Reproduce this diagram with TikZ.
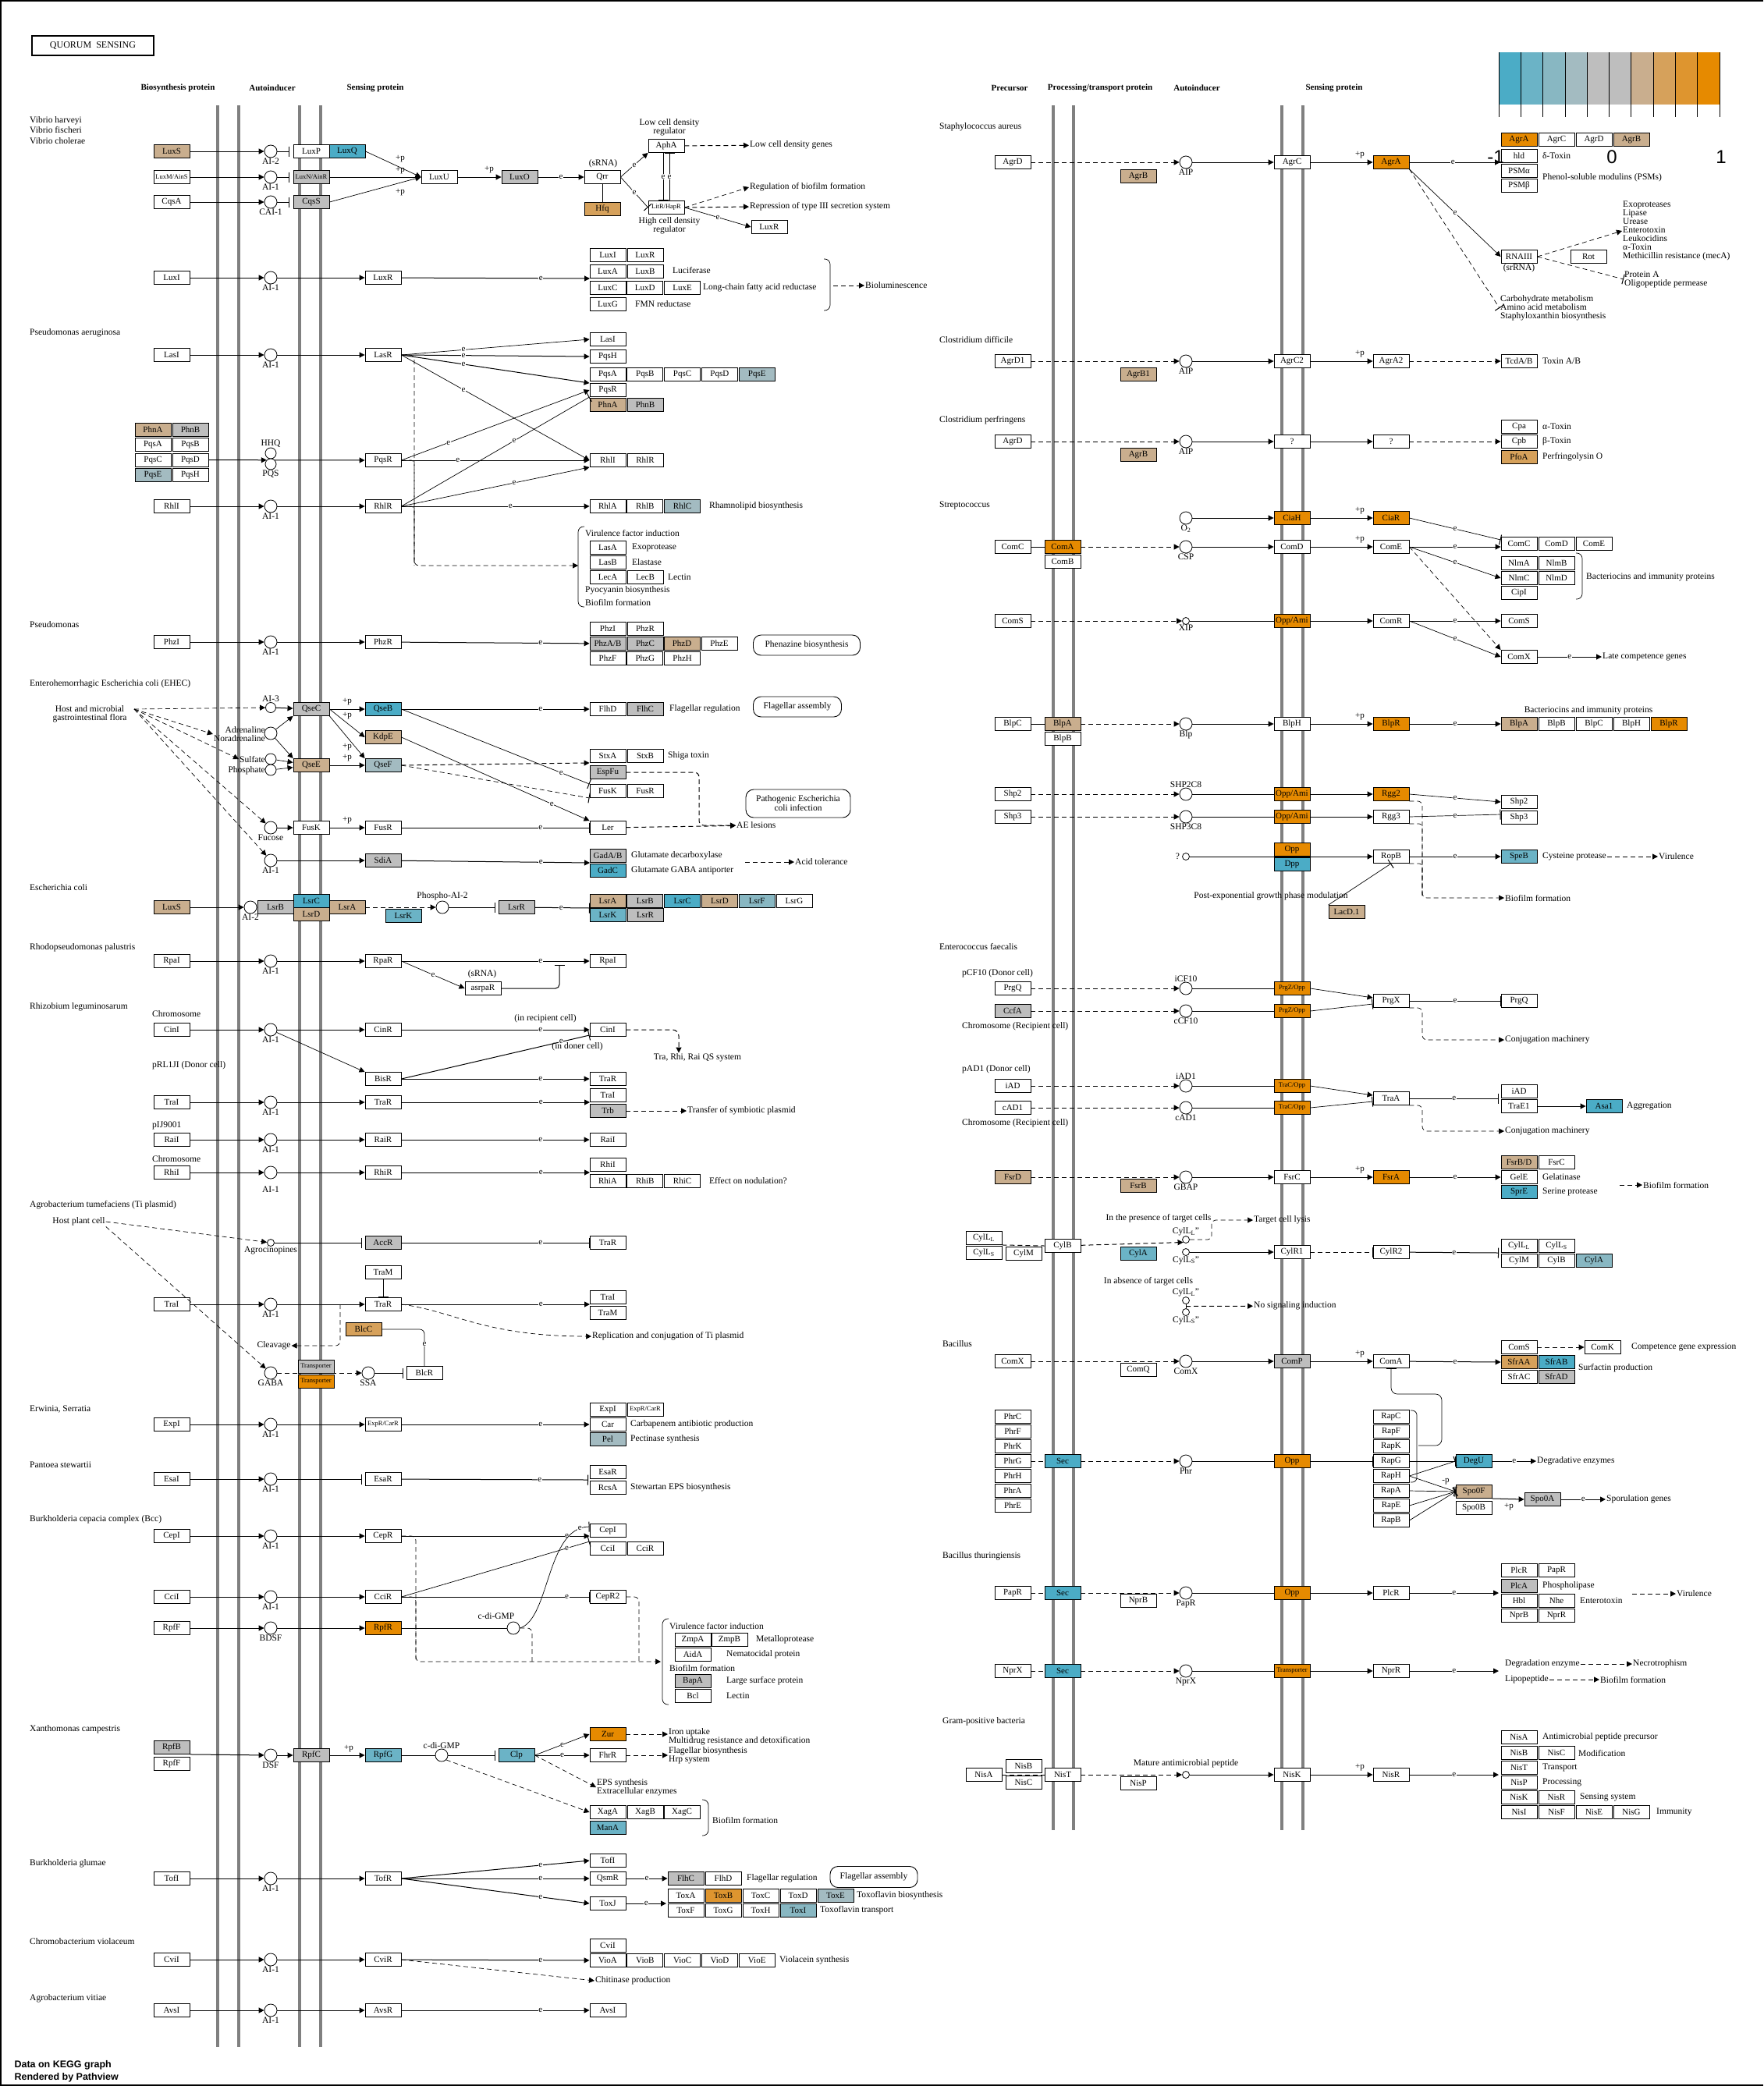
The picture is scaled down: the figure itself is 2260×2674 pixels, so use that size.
\documentclass[tikz,border=0pt]{standalone}
\usepackage{fontspec}
\setmainfont{Liberation Serif}
\newfontfamily\pvfont{Liberation Sans}
\usetikzlibrary{positioning, arrows.meta}
\definecolor{cA}{HTML}{4BACC6}
\definecolor{cB}{HTML}{6BB3C6}
\definecolor{cC}{HTML}{88B7C2}
\definecolor{cD}{HTML}{A3BBC1}
\definecolor{cG}{HTML}{BEBEBE}
\definecolor{cT}{HTML}{C9AE8E}
\definecolor{cU}{HTML}{D6A15B}
\definecolor{cV}{HTML}{DE952F}
\definecolor{cO}{HTML}{E68A00}
\definecolor{memgray}{HTML}{808080}
\newcommand\gfont{\fontsize{11}{12}\selectfont}
\newcommand\lfont{\fontsize{11.5}{13}\selectfont}
\newcommand\sqfont{\fontsize{8.5}{9}\selectfont}
\newcommand\tfont{\fontsize{11.5}{11}\selectfont}

\begin{document}
\begin{tikzpicture}[x=1pt, y=-1pt,
  gene/.style={draw, line width=0.9pt, fill=white, minimum width=46pt, minimum height=17pt, inner sep=0pt, font=\gfont},
  sq/.style={font=\sqfont},
  sig/.style={circle, draw, fill=white, minimum size=16pt, inner sep=0pt, line width=0.8pt},
  dotc/.style={circle, draw, fill=white, minimum size=9pt, inner sep=0pt, line width=0.8pt},
  txt/.style={font=\lfont, inner sep=1pt},
  lt/.style={txt, anchor=west},
  hd/.style={font=\bfseries\gfont},
  ev/.style={font=\gfont, fill=white, inner sep=0.5pt},
  pl/.style={font=\gfont, inner sep=0pt},
  arr/.style={-{Triangle[length=7pt, width=7pt]}, line width=1pt},
  inh/.style={-{Bar[width=13pt, line width=1pt]}, line width=1pt},
  dsh/.style={arr, dash pattern=on 6pt off 4pt},
  dl/.style={line width=1pt, dash pattern=on 6pt off 4pt},
  lw/.style={line width=0.7pt},
  mem/.style={line width=4pt, draw=memgray},
  oval/.style={draw, rounded corners=10pt, line width=0.9pt, font=\lfont, align=center, inner sep=3pt}]
\useasboundingbox (0,0) rectangle (2260,2674);
\draw[line width=2pt] (2260,1) -- (1,1) -- (1,2673) -- (2260,2673);
\foreach \x in {279,306,384,411} \draw[mem] (\x,135) -- (\x,2624);
\foreach \x in {1350,1376,1643,1670} \draw[mem] (\x,135) -- (\x,2346);

\node[draw, line width=2pt, minimum width=156pt, minimum height=25pt, font=\fontsize{12}{14}\selectfont] (title) at (119,58) {QUORUM\ \ SENSING};
\node[hd] (hBio) at (228,113) {Biosynthesis protein};
\node[hd] (hAut) at (349,113) {Autoinducer};
\node[hd] (hSen) at (481,113) {Sensing protein};
\node[hd] (hPre) at (1294,113) {Precursor};
\node[hd] (hPro) at (1410,113) {Processing/transport protein};
\node[hd] (hAut2) at (1534,113) {Autoinducer};
\node[hd] (hSen2) at (1710,113) {Sensing protein};

\foreach \c [count=\i from 0] in {cA,cB,cC,cD,cG,cG,cT,cU,cV,cO}
  \fill[\c] ({1921+28.3*\i},67) rectangle ({1949.3+28.3*\i},134);
\foreach \i in {0,...,10} \draw[lw] ({1921+28.3*\i},67) -- ({1921+28.3*\i},150);

\node[lt, align=left, font=\fontsize{11.5}{13.5}\selectfont] (spVib) at (37,167) {Vibrio harveyi\\Vibrio fischeri\\Vibrio cholerae};
\node[gene, fill=cT] (luxS) at (220,194) {LuxS};
\node[gene, sq] (luxM) at (220,227) {LuxM/AinS};
\node[gene] (cqsA) at (220,259) {CqsA};
\node[sig] (ai2a) at (347,194) {};
\node[txt, below=-1pt of ai2a] (ai2aL) {AI-2};
\node[sig] (ai1a) at (347,227) {};
\node[txt, below=-1pt of ai1a] (ai1aL) {AI-1};
\node[sig] (cai1) at (347,259) {};
\node[txt, below=-1pt of cai1] (cai1L) {CAI-1};
\node[gene] (luxP) at (399,194) {LuxP};
\node[gene, fill=cA] (luxQ) at (445,194) {LuxQ};
\node[gene, fill=cG, sq] (luxN) at (399,227) {LuxN/AinR};
\node[gene, fill=cG] (cqsS) at (399,259) {CqsS};
\node[gene] (luxU) at (563,227) {LuxU};
\node[gene, fill=cG] (luxO) at (666,227) {LuxO};
\node[gene] (qrr) at (772,227) {Qrr};
\node[txt] (srnaA) at (773,210) {(sRNA)};
\node[gene, fill=cU] (hfq) at (772,268) {Hfq};
\node[gene] (aphA) at (854,187) {AphA};
\node[txt, align=center, font=\tfont] (aphAL) at (858,163) {Low cell density\\regulator};
\node[gene, sq] (litR) at (854,266) {LitR/HapR};
\node[txt, align=center, font=\tfont] (litRL) at (858,289) {High cell density\\regulator};
\node[lt] (lcdg) at (960,186) {Low cell density genes};
\node[lt] (rbf) at (960,240) {Regulation of biofilm formation};
\node[lt] (rt3) at (960,265) {Repression of type III secretion system};
\node[gene] (luxRt) at (986,291) {LuxR};
\node[pl] (pp1) at (513,204) {+p};
\node[pl] (pp2) at (513,219) {+p};
\node[pl] (pp3) at (513,247) {+p};
\node[pl] (pp4) at (627,218) {+p};
\draw[arr] (luxS) -- (ai2a);
\draw[arr] (luxM) -- (ai1a);
\draw[arr] (cqsA) -- (cai1);
\draw[inh, shorten >=5pt] (ai2a) -- (luxP);
\draw[inh, shorten >=5pt] (ai1a) -- (luxN);
\draw[inh, shorten >=5pt] (cai1) -- (cqsS);
\draw[arr, lw] (luxQ.east) -- (luxU.west);
\draw[arr] (luxN) -- (luxU);
\draw[arr, lw] (cqsS.east) -- (luxU.west);
\draw[arr] (luxU) -- (luxO);
\draw[arr] (luxO) -- node[ev]{e} (qrr);
\draw[lw] (qrr) -- (hfq);
\draw[arr, lw] (qrr.east) -- node[ev]{e} (aphA.south west);
\draw[inh, lw] (qrr.east) -- node[ev]{e} (litR.west);
\draw[inh, lw] ([xshift=-4pt]aphA.south) -- node[ev]{e} ([xshift=-4pt]litR.north);
\draw[inh, lw] ([xshift=4pt]litR.north) -- node[ev]{e} ([xshift=4pt]aphA.south);
\draw[dsh] (aphA) -- (lcdg);
\draw[dsh, lw] (litR.east) -- (rbf.west);
\draw[dsh] (litR.east) -- (rt3.west);
\draw[arr, lw] (litR.east) -- node[ev]{e} (luxRt.west);

\node[gene] (luxI) at (220,356) {LuxI};
\node[sig] (ai1b) at (347,356) {};
\node[txt, below=-1pt of ai1b] (ai1bL) {AI-1};
\node[gene] (luxR) at (491,356) {LuxR};
\node[gene] (tLuxI) at (779,327) {LuxI};
\node[gene] (tLuxR) at (827,327) {LuxR};
\node[gene] (tLuxA) at (779,348) {LuxA};
\node[gene] (tLuxB) at (827,348) {LuxB};
\node[lt] (lucif) at (861,347) {Luciferase};
\foreach \g [count=\i from 0] in {LuxC,LuxD,LuxE} \node[gene] (t\g) at ({779+47.8*\i},369) {\g};
\node[lt] (lcfa) at (900,369) {Long-chain fatty acid reductase};
\node[gene] (tLuxG) at (779,390) {LuxG};
\node[lt] (fmn) at (813,390) {FMN reductase};
\coordinate (luxT) at (756,357);
\coordinate (bioB) at (1068,366);
\node[lt] (biolum) at (1108,366) {Bioluminescence};
\draw[arr] (luxI) -- (ai1b);
\draw[arr] (ai1b) -- (luxR);
\draw[arr] (luxR) -- node[ev, pos=.74]{e} (luxT);
\draw[lw, rounded corners=7pt] (1056,332) -| (1064,366) |- (1056,398);
\draw[dsh] (bioB) -- (biolum);

\node[lt] (spPa) at (37,427) {Pseudomonas aeruginosa};
\node[gene] (lasI) at (220,455) {LasI};
\node[sig] (ai1c) at (347,455) {};
\node[txt, below=-1pt of ai1c] (ai1cL) {AI-1};
\node[gene] (lasR) at (491,455) {LasR};
\node[gene] (tLasI) at (779,435) {LasI};
\node[gene] (tPqsH) at (779,457) {PqsH};
\foreach \g/\c [count=\i from 0] in {PqsA/white,PqsB/white,PqsC/white,PqsD/white,PqsE/cD} \node[gene, fill=\c] (t\g) at ({779+47.8*\i},480) {\g};
\node[gene] (tPqsR) at (779,500) {PqsR};
\node[gene, fill=cT] (tPhnA) at (779,519) {PhnA};
\node[gene, fill=cG] (tPhnB) at (827,519) {PhnB};
\foreach \a/\b/\ca/\cb [count=\i from 0] in {PhnA/PhnB/cT/cG,PqsA/PqsB/white/white,PqsC/PqsD/white/white,PqsE/PqsH/cD/white} {
  \node[gene, fill=\ca] (b\a) at (196,{551+19.3*\i}) {\a};
  \node[gene, fill=\cb] (b\b) at (244,{551+19.3*\i}) {\b};
}
\node[sig, minimum size=14pt] (hhq) at (347,581) {};
\node[sig, minimum size=14pt] (pqs) at (347,595) {};
\node[txt, above=-1pt of hhq] (hhqL) {HHQ};
\node[txt, below=-1pt of pqs] (pqsL) {PQS};
\node[gene] (pqsR) at (491,590) {PqsR};
\node[gene] (rhlI) at (220,649) {RhlI};
\node[sig] (ai1d) at (347,649) {};
\node[txt, below=-1pt of ai1d] (ai1dL) {AI-1};
\node[gene] (rhlR) at (491,649) {RhlR};
\node[gene] (tRhlI) at (779,590) {RhlI};
\node[gene] (tRhlR) at (827,590) {RhlR};
\foreach \g/\c [count=\i from 0] in {RhlA/white,RhlB/white,RhlC/cD} \node[gene, fill=\c] (t\g) at ({779+47.8*\i},649) {\g};
\node[lt] (rhamno) at (908,649) {Rhamnolipid biosynthesis};
\draw[arr] (lasI) -- (ai1c);
\draw[arr] (ai1c) -- (lasR);
\draw[arr, lw] (lasR.east) -- node[ev, pos=.33]{e} (tLasI.west);
\draw[arr] (lasR.east) -- node[ev, pos=.33]{e} (tPqsH.west);
\draw[arr] (lasR.east) -- node[ev, pos=.33]{e} (tPqsR.north west);
\draw[arr, lw] (lasR.east) -- node[ev, pos=.33]{e} (tRhlI.west);
\draw[arr] (bPqsD.east) -- (pqs.north west);
\draw[arr] (pqs.north east) -- (pqsR.west);
\draw[arr, lw] (pqsR.east) -- node[ev, pos=.25]{e} (tPqsR.west);
\draw[arr] (pqsR) -- node[ev, pos=.3]{e} (tRhlI);
\draw[arr] (rhlI) -- (ai1d);
\draw[arr] (ai1d) -- (rhlR);
\draw[inh, lw] (rhlR.east) -- node[ev, pos=.6]{e} (tPqsR.south west);
\draw[arr, lw] (rhlR.east) -- node[ev, pos=.6]{e} (tRhlI.south west);
\draw[arr] (rhlR) -- node[ev, pos=.58]{e} (tRhlA);
\coordinate (vfk) at (531,725);
\coordinate (vfB) at (741,725);
\draw[dsh, lw, rounded corners=6pt] (lasR.east) -| (vfk) -- (vfB);
\draw[dl, lw, rounded corners=4pt] (pqsR.east) -| (vfk);
\draw[dl, lw, rounded corners=4pt] (rhlR.east) -| (vfk);
\draw[lw, rounded corners=7pt] (749,675) -| (741,725) |- (749,778);
\node[lt] (vfi) at (749,684) {Virulence factor induction};
\node[gene] (tLasA) at (779,702) {LasA};
\node[lt] (exo) at (809,702) {Exoprotease};
\node[gene] (tLasB) at (779,721) {LasB};
\node[lt] (elas) at (809,721) {Elastase};
\node[gene] (tLecA) at (779,740) {LecA};
\node[gene] (tLecB) at (827,740) {LecB};
\node[lt] (lect) at (855,740) {Lectin};
\node[lt] (pyo) at (749,757) {Pyocyanin biosynthesis};
\node[lt] (bff1) at (749,772) {Biofilm formation};

\node[lt] (spPs) at (37,801) {Pseudomonas};
\node[gene] (phzI) at (220,823) {PhzI};
\node[sig] (ai1e) at (347,823) {};
\node[txt, below=-1pt of ai1e] (ai1eL) {AI-1};
\node[gene] (phzR) at (491,823) {PhzR};
\node[gene] (tPhzI) at (779,806) {PhzI};
\node[gene] (tPhzR) at (827,806) {PhzR};
\node[gene, fill=cG] (tPhzAB) at (779,825) {PhzA/B};
\node[gene, fill=cG] (tPhzC) at (827,825) {PhzC};
\node[gene, fill=cT] (tPhzD) at (874,825) {PhzD};
\node[gene] (tPhzE) at (922,825) {PhzE};
\foreach \g [count=\i from 0] in {PhzF,PhzG,PhzH} \node[gene] (t\g) at ({779+47.8*\i},844) {\g};
\node[oval, minimum width=137pt, minimum height=26pt] (phzBio) at (1034,827) {Phenazine biosynthesis};
\draw[arr] (phzI) -- (ai1e);
\draw[arr] (ai1e) -- (phzR);
\draw[arr] (phzR) -- node[ev, pos=.74]{e} (tPhzAB);

\node[lt] (spEh) at (37,877) {Enterohemorrhagic Escherichia coli (EHEC)};
\node[txt, align=center, font=\tfont] (host) at (115,915) {Host and microbial\\gastrointestinal flora};
\coordinate (hostE) at (172,909);
\node[dotc, minimum size=13pt] (ai3) at (347,907) {};
\node[txt, above=-1pt of ai3] (ai3L) {AI-3};
\node[gene, fill=cG] (qseC) at (399,909) {QseC};
\node[gene, fill=cA] (qseB) at (491,909) {QseB};
\node[gene, fill=cT] (kdpE) at (491,945) {KdpE};
\node[gene, fill=cT] (qseE) at (399,981) {QseE};
\node[gene, fill=cD] (qseF) at (491,981) {QseF};
\node[sig] (adr) at (347,940) {};
\node[txt, anchor=east, align=right, font=\tfont] (adrL) at (341,941) {Adrenaline\\Noradrenaline};
\node[sig, minimum size=14pt] (sulf) at (347,973) {};
\node[sig, minimum size=14pt] (phos) at (347,987) {};
\node[txt, anchor=east] (sulfL) at (341,973) {Sulfate};
\node[txt, anchor=east] (phosL) at (341,988) {Phosphate};
\node[gene] (fusK) at (399,1061) {FusK};
\node[gene] (fusR) at (491,1061) {FusR};
\node[sig] (fuc) at (347,1061) {};
\node[txt, below=-1pt of fuc] (fucL) {Fucose};
\node[sig] (ai1f) at (347,1103) {};
\node[txt, below=-1pt of ai1f] (ai1fL) {AI-1};
\node[gene, fill=cG] (sdiA) at (491,1103) {SdiA};
\node[pl] (pp6) at (445,900) {+p};
\node[pl] (pp7) at (445,918) {+p};
\node[pl] (pp8) at (445,958) {+p};
\node[pl] (pp9) at (445,972) {+p};
\node[pl] (pp19) at (445,1052) {+p};
\node[gene] (tFlhD) at (779,909) {FlhD};
\node[gene, fill=cG] (tFlhC) at (827,909) {FlhC};
\node[lt] (flreg) at (857,909) {Flagellar regulation};
\node[oval, minimum width=113pt, minimum height=26pt] (flasm) at (1022,906) {Flagellar assembly};
\node[gene] (tStxA) at (779,969) {StxA};
\node[gene] (tStxB) at (827,969) {StxB};
\node[lt] (shiga) at (855,969) {Shiga toxin};
\node[gene, fill=cG] (tEspFu) at (779,990) {EspFu};
\node[gene] (tFusK) at (779,1014) {FusK};
\node[gene] (tFusR) at (827,1014) {FusR};
\node[oval, minimum width=134pt, minimum height=36pt, font=\fontsize{11.5}{12}\selectfont] (pec) at (1023,1030) {Pathogenic Escherichia\\coli infection};
\node[gene] (tLer) at (779,1061) {Ler};
\node[lt] (aeles) at (943,1058) {AE lesions};
\node[gene, fill=cG] (tGadAB) at (779,1097) {GadA/B};
\node[lt] (gdc) at (808,1097) {Glutamate decarboxylase};
\node[gene, fill=cA] (tGadC) at (779,1116) {GadC};
\node[lt] (gga) at (808,1116) {Glutamate GABA antiporter};
\node[lt] (acid) at (1018,1105) {Acid tolerance};
\coordinate (aeBend) at (896,1040);
\coordinate (gadT) at (756,1106);
\coordinate (gadE) at (955,1105);
\draw[dsh, lw] (hostE) -- (ai3);
\draw[dsh, lw] (hostE) -- (adrL.west);
\draw[dsh, lw] (hostE) -- (sulfL.west);
\draw[dsh, lw] (hostE) -- (fuc);
\draw[dsh, lw] (hostE) -- (ai1f);
\draw[arr] (ai3) -- (qseC);
\draw[arr, lw] (adr) -- (qseC.south west);
\draw[arr, lw] (adr) -- (qseE.north west);
\draw[arr, lw] (sulf) -- (qseE);
\draw[arr, lw] (phos) -- (qseE);
\draw[arr] (qseC) -- (qseB);
\draw[arr, lw] (qseC.east) -- (kdpE.west);
\draw[arr, lw] (qseC.south east) -- (qseF.north west);
\draw[arr] (qseE) -- (qseF);
\draw[arr] (qseB) -- node[ev, pos=.74]{e} (tFlhD);
\draw[inh, lw] (qseB.east) -- node[ev, pos=.85]{e} (tFusK.north west);
\draw[arr, lw] (kdpE.east) -- node[ev, pos=.8]{e} (tLer.north west);
\draw[dsh] (qseF.east) -- (tStxA.south west);
\draw[inh, dl, lw] (qseF.east) -- (tFusK.south west);
\draw[dsh, rounded corners=6pt] (tEspFu.east) -| (aeBend) |- (aeles.west);
\draw[inh] (fusR) -- node[ev, pos=.74]{e} (tLer);
\draw[dsh] (tLer) -- (aeles);
\draw[arr] (fuc) -- (fusK);
\draw[arr] (fusK) -- (fusR);
\draw[arr] (ai1f) -- (sdiA);
\draw[arr] (sdiA) -- node[ev, pos=.74]{e} (gadT);
\draw[dsh] (gadE) -- (acid);

\node[lt] (spEc) at (37,1138) {Escherichia coli};
\node[gene, fill=cT] (luxS2) at (220,1163) {LuxS};
\node[sig] (ai2b) at (321,1163) {};
\node[txt, below=-1pt of ai2b] (ai2bL) {AI-2};
\node[gene, fill=cG] (lsrB) at (353,1163) {LsrB};
\node[gene, fill=cA] (lsrC) at (399,1154.5) {LsrC};
\node[gene, fill=cT] (lsrD) at (399,1171.5) {LsrD};
\node[gene, fill=cT] (lsrA) at (445,1163) {LsrA};
\node[gene, fill=cB] (lsrK) at (517,1174) {LsrK};
\node[sig] (pai2) at (567,1163) {};
\node[txt, above=-1pt of pai2] (pai2L) {Phospho-AI-2};
\node[gene, fill=cG] (lsrR) at (662,1163) {LsrR};
\foreach \g/\c [count=\i from 0] in {LsrA/cT,LsrB/cG,LsrC/cA,LsrD/cT,LsrF/cC,LsrG/white} \node[gene, fill=\c] (t\g) at ({779+47.8*\i},1155) {\g};
\node[gene, fill=cB] (tLsrK) at (779,1173) {LsrK};
\node[gene, fill=cG] (tLsrR) at (827,1173) {LsrR};
\coordinate (lsrT) at (756,1164);
\draw[arr] (luxS2) -- (ai2b);
\draw[dsh] (lsrA) -- (pai2);
\draw[inh, shorten >=4pt] (pai2) -- (lsrR);
\draw[inh] (lsrR) -- node[ev, pos=.48]{e} (lsrT);

\node[lt] (spRp) at (37,1215) {Rhodopseudomonas palustris};
\node[gene] (rpaI) at (220,1232) {RpaI};
\node[sig] (ai1g) at (347,1232) {};
\node[txt, below=-1pt of ai1g] (ai1gL) {AI-1};
\node[gene] (rpaR) at (491,1232) {RpaR};
\node[gene] (tRpaI) at (779,1232) {RpaI};
\node[gene] (asrpaR) at (619,1267) {asrpaR};
\node[txt] (srnaB) at (618,1249) {(sRNA)};
\coordinate (rpaBar) at (717,1237);
\draw[arr] (rpaI) -- (ai1g);
\draw[arr] (ai1g) -- (rpaR);
\draw[arr] (rpaR) -- node[ev, pos=.74]{e} (tRpaI);
\draw[arr, lw] (rpaR.east) -- node[ev]{e} (asrpaR.west);
\draw[inh, rounded corners=5pt] (asrpaR.east) -| (rpaBar);

\node[lt] (spRl) at (37,1291) {Rhizobium leguminosarum};
\node[lt] (chr1) at (194,1300) {Chromosome};
\node[gene] (cinI) at (220,1320) {CinI};
\node[sig] (ai1h) at (347,1320) {};
\node[txt, below=-1pt of ai1h] (ai1hL) {AI-1};
\node[gene] (cinR) at (491,1320) {CinR};
\node[gene] (tCinI) at (779,1320) {CinI};
\node[txt] (inrec) at (699,1306) {(in recipient cell)};
\node[txt] (indon) at (740,1342) {(in doner cell)};
\node[txt] (trarhi) at (894,1356) {Tra, Rhi, Rai QS system};
\node[lt] (prl) at (194,1366) {pRL1JI (Donor cell)};
\node[gene] (bisR) at (491,1383) {BisR};
\node[gene] (tTraR1) at (779,1383) {TraR};
\draw[arr] (cinI) -- (ai1h);
\draw[arr] (ai1h) -- (cinR);
\draw[arr] (cinR) -- node[ev, pos=.74]{e} (tCinI);
\draw[dsh, rounded corners=8pt] (tCinI.east) -| ([xshift=-24pt]trarhi.north);
\draw[arr, lw] (ai1h) -- (bisR.north west);
\draw[inh] (bisR.east) -- node[ev, pos=.85]{e} ([yshift=-7pt]tCinI.west);
\draw[arr] (bisR) -- node[ev, pos=.74]{e} (tTraR1);

\node[gene] (traI) at (220,1413) {TraI};
\node[sig] (ai1i) at (347,1413) {};
\node[txt, below=-1pt of ai1i] (ai1iL) {AI-1};
\node[gene] (traR) at (491,1413) {TraR};
\node[gene] (tTraI1) at (779,1404) {TraI};
\node[gene, fill=cG] (tTrb) at (779,1424) {Trb};
\node[lt] (tsp) at (880,1424) {Transfer of symbiotic plasmid};
\coordinate (traT) at (756,1413);
\draw[arr] (traI) -- (ai1i);
\draw[arr] (ai1i) -- (traR);
\draw[arr] (traR) -- node[ev, pos=.74]{e} (traT);
\draw[dsh] (tTrb) -- (tsp);

\node[lt] (pij) at (194,1443) {pIJ9001};
\node[gene] (raiI) at (220,1461) {RaiI};
\node[sig] (ai1j) at (347,1461) {};
\node[txt, below=-1pt of ai1j] (ai1jL) {AI-1};
\node[gene] (raiR) at (491,1461) {RaiR};
\node[gene] (tRaiI) at (779,1461) {RaiI};
\draw[arr] (raiI) -- (ai1j);
\draw[arr] (ai1j) -- (raiR);
\draw[arr] (raiR) -- node[ev, pos=.74]{e} (tRaiI);

\node[lt] (chr2) at (194,1486) {Chromosome};
\node[gene] (rhiI) at (220,1503) {RhiI};
\node[sig] (ai1k) at (347,1503) {};
\node[txt] (ai1kL) at (347,1525) {AI-1};
\node[gene] (rhiR) at (491,1503) {RhiR};
\node[gene] (tRhiI) at (779,1493) {RhiI};
\foreach \g [count=\i from 0] in {RhiA,RhiB,RhiC} \node[gene] (t\g) at ({779+47.8*\i},1514) {\g};
\node[lt] (nod) at (908,1514) {Effect on nodulation?};
\coordinate (rhiT) at (756,1503);
\draw[arr] (rhiI) -- (ai1k);
\draw[arr] (ai1k) -- (rhiR);
\draw[arr] (rhiR) -- node[ev, pos=.74]{e} (rhiT);

\node[lt] (spAt) at (37,1545) {Agrobacterium tumefaciens (Ti plasmid)};
\node[txt] (hpc) at (101,1566) {Host plant cell};
\node[dotc] (agro) at (347,1593) {};
\node[txt, below=-1pt of agro] (agroL) {Agrocinopines};
\node[gene, fill=cG] (accR) at (491,1593) {AccR};
\node[gene] (tTraR2) at (779,1593) {TraR};
\draw[dsh, lw] (hpc.east) -- (agro);
\draw[inh, shorten >=4pt] (agro) -- (accR);
\draw[inh] (accR) -- node[ev, pos=.74]{e} (tTraR2);
\node[gene] (traM) at (491,1631) {TraM};
\node[gene] (traI2) at (220,1672) {TraI};
\node[sig] (ai1l) at (347,1672) {};
\node[txt, below=-1pt of ai1l] (ai1lL) {AI-1};
\node[gene] (traR2) at (491,1672) {TraR};
\node[gene] (tTraI2) at (779,1663) {TraI};
\node[gene] (tTraM) at (779,1683) {TraM};
\coordinate (traT2) at (756,1672);
\node[lt] (repl) at (758,1713) {Replication and conjugation of Ti plasmid};
\node[gene, fill=cU] (blcC) at (466,1704) {BlcC};
\node[txt] (clv) at (351,1725) {Cleavage};
\node[sig] (gaba) at (347,1760) {};
\node[txt, below=-1pt of gaba] (gabaL) {GABA};
\node[gene, fill=cG, sq] (trpG) at (405,1752) {Transporter};
\node[gene, fill=cO, sq] (trpO) at (405,1771) {Transporter};
\node[sig] (ssa) at (472,1760) {};
\node[txt, below=-1pt of ssa] (ssaL) {SSA};
\node[gene] (blcR) at (544,1760) {BlcR};
\coordinate (clvT) at (436,1672);
\draw[arr] (traI2) -- (ai1l);
\draw[arr] (ai1l) -- (traR2);
\draw[inh] (traM) -- (traR2);
\draw[arr] (traR2) -- node[ev, pos=.74]{e} (traT2);
\draw[dsh, lw] (traR2.east) .. controls (580,1680) and (620,1713) .. (repl.west);
\draw[dsh, lw, rounded corners=6pt] (clvT) |- (clv.east);
\draw[inh, lw, rounded corners=6pt] (blcR.north) |- node[ev, pos=.3]{e} (blcC.east);
\draw[dsh, lw] (hpc.south east) -- (gaba);
\draw[dsh] (gaba) -- (ssa);
\draw[inh, shorten >=4pt] (ssa) -- (blcR);

\node[lt] (spEs) at (37,1807) {Erwinia, Serratia};
\node[gene] (expI) at (220,1826) {ExpI};
\node[sig] (ai1m) at (347,1826) {};
\node[txt, below=-1pt of ai1m] (ai1mL) {AI-1};
\node[gene, sq] (expR) at (491,1826) {ExpR/CarR};
\node[gene] (tExpI) at (779,1807) {ExpI};
\node[gene, sq] (tExpR) at (827,1807) {ExpR/CarR};
\node[gene] (tCar) at (779,1826) {Car};
\node[lt] (carb) at (807,1826) {Carbapenem antibiotic production};
\node[gene, fill=cD] (tPel) at (779,1845) {Pel};
\node[lt] (pect) at (807,1845) {Pectinase synthesis};
\draw[arr] (expI) -- (ai1m);
\draw[arr] (ai1m) -- (expR);
\draw[arr] (expR) -- node[ev, pos=.74]{e} (tCar);

\node[lt] (spPst) at (37,1878) {Pantoea stewartii};
\node[gene] (esaI) at (220,1896) {EsaI};
\node[sig] (ai1n) at (347,1896) {};
\node[txt, below=-1pt of ai1n] (ai1nL) {AI-1};
\node[gene] (esaR) at (491,1896) {EsaR};
\node[gene] (tEsaR) at (779,1887) {EsaR};
\node[gene] (tRcsA) at (779,1907) {RcsA};
\node[lt] (stew) at (807,1907) {Stewartan EPS biosynthesis};
\coordinate (esaT) at (754,1897);
\draw[arr] (esaI) -- (ai1n);
\draw[inh, shorten >=4pt] (ai1n) -- (esaR);
\draw[inh] (esaR) -- node[ev, pos=.74]{e} (esaT);

\node[lt] (spBc) at (37,1948) {Burkholderia cepacia complex (Bcc)};
\node[gene] (cepI) at (220,1969) {CepI};
\node[sig] (ai1o) at (347,1969) {};
\node[txt, below=-1pt of ai1o] (ai1oL) {AI-1};
\node[gene] (cepR) at (491,1969) {CepR};
\node[gene] (tCepI) at (779,1962) {CepI};
\node[gene] (tCciI) at (779,1985) {CciI};
\node[gene] (tCciR) at (827,1985) {CciR};
\node[gene] (cciI) at (220,2047) {CciI};
\node[sig] (ai1p) at (347,2047) {};
\node[txt, below=-1pt of ai1p] (ai1pL) {AI-1};
\node[gene] (cciR) at (491,2047) {CciR};
\node[gene] (tCepR2) at (779,2047) {CepR2};
\node[gene] (rpfF) at (220,2087) {RpfF};
\node[sig] (bdsf) at (347,2087) {};
\node[txt, below=-1pt of bdsf] (bdsfL) {BDSF};
\node[gene, fill=cO] (rpfR) at (491,2087) {RpfR};
\node[sig] (cdg1) at (658,2087) {};
\node[txt] (cdg1L) at (636,2072) {c-di-GMP};
\draw[arr] (cepI) -- (ai1o);
\draw[arr] (ai1o) -- (cepR);
\draw[arr] (cepR) -- node[ev, pos=.88]{e} (tCepI.west |- cepR);
\draw[inh, lw] (cdg1.east) .. controls (705,2075) and (700,1958) .. node[ev, pos=.92]{e} ([yshift=5pt]tCepI.west);
\draw[arr] (cciI) -- (ai1p);
\draw[arr] (ai1p) -- (cciR);
\draw[inh, lw] (cciR.east) -- node[ev, pos=.88]{e} (tCciI.north west);
\draw[inh] (cciR) -- node[ev, pos=.88]{e} (tCepR2);
\draw[arr] (rpfF) -- (bdsf);
\draw[arr] (bdsf) -- (rpfR);
\draw[lw] (rpfR) -- (cdg1);
\coordinate (bccH) at (533,2130);
\coordinate (bccB) at (847,2130);
\coordinate (cdgH) at (682,2130);
\coordinate (r2H) at (819,2130);
\draw[dsh, lw, rounded corners=6pt] (cepR.east) -| (bccH) -- (bccB);
\draw[dl, lw, rounded corners=6pt] (cciR.east) -| (bccH);
\draw[dl, lw, rounded corners=6pt] (cdg1.east) -| (cdgH);
\draw[dl, lw, rounded corners=6pt] (tCepR2.east) -| (r2H);
\draw[lw, rounded corners=7pt] (857,2075) -| (849,2130) |- (857,2185);
\node[lt] (vfi2) at (857,2085) {Virulence factor induction};
\node[gene] (tZmpA) at (888,2102) {ZmpA};
\node[gene] (tZmpB) at (935,2102) {ZmpB};
\node[lt] (metp) at (968,2102) {Metalloprotease};
\node[gene] (tAidA) at (888,2121) {AidA};
\node[lt] (nema) at (930,2121) {Nematocidal protein};
\node[lt] (bff2) at (857,2138) {Biofilm formation};
\node[gene, fill=cG] (tBapA) at (888,2155) {BapA};
\node[lt] (lsp) at (930,2155) {Large surface protein};
\node[gene] (tBcl) at (888,2174) {Bcl};
\node[lt] (lec2) at (930,2174) {Lectin};

\node[lt] (spXc) at (37,2217) {Xanthomonas campestris};
\node[gene, fill=cG] (rpfB) at (220,2240) {RpfB};
\node[gene] (rpfF2) at (220,2261) {RpfF};
\node[sig] (dsf) at (347,2250) {};
\node[txt, below=-1pt of dsf] (dsfL) {DSF};
\node[gene, fill=cG] (rpfC) at (399,2250) {RpfC};
\node[gene, fill=cB] (rpfG) at (491,2250) {RpfG};
\node[pl] (pp5) at (447,2242) {+p};
\node[sig] (cdg2) at (566,2250) {};
\node[txt, above=-1pt of cdg2] (cdg2L) {c-di-GMP};
\node[gene, fill=cB] (clp) at (662,2250) {Clp};
\node[gene, fill=cO] (tZur) at (779,2223) {Zur};
\node[gene] (tFhrR) at (779,2250) {FhrR};
\node[lt, align=left, font=\tfont] (iron) at (856,2226) {Iron uptake\\Multidrug resistance and detoxification};
\node[lt, align=left, font=\tfont] (flb) at (856,2250) {Flagellar biosynthesis\\Hrp system};
\node[lt, align=left, font=\tfont] (eps) at (764,2291) {EPS synthesis\\Extracellular enzymes};
\node[gene] (tXagA) at (779,2323) {XagA};
\node[gene] (tXagB) at (827,2323) {XagB};
\node[gene] (tXagC) at (874,2323) {XagC};
\node[gene, fill=cB] (tManA) at (779,2343) {ManA};
\draw[lw, rounded corners=7pt] (900,2307) -| (908,2330) |- (900,2353);
\node[lt] (bff3) at (912,2333) {Biofilm formation};
\draw[arr] (rpfB.south east) -- (dsf);
\draw[arr] (dsf) -- (rpfC);
\draw[arr] (rpfC) -- (rpfG);
\draw[lw] (rpfG) -- (cdg2);
\draw[inh, shorten >=4pt] (cdg2) -- (clp);
\draw[arr, lw] (clp.east) -- node[ev]{e} (tZur.west);
\draw[arr] (clp) -- node[ev]{e} (tFhrR);
\draw[dsh, lw] (clp.east) -- (eps.west);
\draw[dsh, lw] (cdg2.south east) -- (tXagA.west);
\draw[dsh] (tZur) -- (iron.west |- tZur);
\draw[dsh] (tFhrR) -- (flb.west);

\node[lt] (spBg) at (37,2389) {Burkholderia glumae};
\node[gene] (tofI) at (220,2408) {TofI};
\node[sig] (ai1q) at (347,2408) {};
\node[txt, below=-1pt of ai1q] (ai1qL) {AI-1};
\node[gene] (tofR) at (491,2408) {TofR};
\node[gene] (tTofI) at (779,2385) {TofI};
\node[gene] (tQsmR) at (779,2408) {QsmR};
\node[gene] (tToxJ) at (779,2440) {ToxJ};
\node[gene, fill=cG] (tFlhC2) at (879,2408) {FlhC};
\node[gene] (tFlhD2) at (927,2408) {FlhD};
\node[lt] (flreg2) at (956,2408) {Flagellar regulation};
\node[oval, minimum width=112pt, minimum height=27pt] (flasm2) at (1120,2406) {Flagellar assembly};
\foreach \g/\c [count=\i from 0] in {ToxA/white,ToxB/cV,ToxC/white,ToxD/white,ToxE/cD} \node[gene, fill=\c] (t\g) at ({879+48*\i},2430) {\g};
\node[lt] (toxbio) at (1097,2430) {Toxoflavin biosynthesis};
\foreach \g/\c [count=\i from 0] in {ToxF/white,ToxG/white,ToxH/white,ToxI/cC} \node[gene, fill=\c] (t\g) at ({879+48*\i},2449) {\g};
\node[lt] (toxtr) at (1050,2449) {Toxoflavin transport};
\coordinate (toxT) at (854,2440);
\draw[arr] (tofI) -- (ai1q);
\draw[arr] (ai1q) -- (tofR);
\draw[arr] (tofR.east) -- node[ev, pos=.74]{e} (tTofI.west);
\draw[arr] (tofR) -- node[ev, pos=.74]{e} (tQsmR);
\draw[arr] (tofR.east) -- node[ev, pos=.74]{e} (tToxJ.west);
\draw[arr] (tQsmR) -- node[ev]{e} (tFlhC2);
\draw[arr] (tToxJ) -- node[ev]{e} (toxT);

\node[lt] (spCv) at (37,2489) {Chromobacterium violaceum};
\node[gene] (cviI) at (220,2512) {CviI};
\node[sig] (ai1r) at (347,2512) {};
\node[txt, below=-1pt of ai1r] (ai1rL) {AI-1};
\node[gene] (cviR) at (491,2512) {CviR};
\node[gene] (tCviI) at (779,2494) {CviI};
\foreach \g [count=\i from 0] in {VioA,VioB,VioC,VioD,VioE} \node[gene] (t\g) at ({779+47.8*\i},2513) {\g};
\node[lt] (viol) at (998,2513) {Violacein synthesis};
\node[lt] (chit) at (762,2539) {Chitinase production};
\draw[arr] (cviI) -- (ai1r);
\draw[arr] (ai1r) -- (cviR);
\draw[arr] (cviR) -- node[ev, pos=.74]{e} (tVioA);
\draw[dsh, lw] (cviR.east) -- (chit.west);

\node[lt] (spAv) at (37,2562) {Agrobacterium vitiae};
\node[gene] (avsI) at (220,2577) {AvsI};
\node[sig] (ai1s) at (347,2577) {};
\node[txt, below=-1pt of ai1s] (ai1sL) {AI-1};
\node[gene] (avsR) at (491,2577) {AvsR};
\node[gene] (tAvsI) at (779,2577) {AvsI};
\draw[arr] (avsI) -- (ai1s);
\draw[arr] (ai1s) -- (avsR);
\draw[arr] (avsR) -- node[ev, pos=.74]{e} (tAvsI);

\node[anchor=west, font=\pvfont\bfseries\fontsize{12.5}{14}\selectfont] (pv1) at (15,2647) {Data on KEGG graph};
\node[anchor=west, font=\pvfont\bfseries\fontsize{12.5}{14}\selectfont] (pv2) at (15,2663) {Rendered by Pathview};

\node[lt] (spSa) at (1203,163) {Staphylococcus aureus};
\node[gene] (agrD) at (1298,208) {AgrD};
\node[gene, fill=cT] (agrB) at (1459,226) {AgrB};
\node[sig] (aip1) at (1520,208) {};
\node[txt, below=-1pt of aip1] (aip1L) {AIP};
\node[gene] (agrC) at (1656,208) {AgrC};
\node[gene, fill=cO] (agrA) at (1783,208) {AgrA};
\node[pl] (pp10) at (1743,199) {+p};
\foreach \g/\c [count=\i from 0] in {AgrA/cO,AgrC/white,AgrD/white,AgrB/cT} \node[gene, fill=\c] (b\g) at ({1947+48*\i},179) {\g};
\node[gene] (bHld) at (1947,200) {hld};
\node[lt] (dtox) at (1976,200) {δ-Toxin};
\node[gene] (bPSMa) at (1947,219) {PSMα};
\node[gene] (bPSMb) at (1947,238) {PSMβ};
\node[lt] (psm) at (1976,228) {Phenol-soluble modulins (PSMs)};
\coordinate (agrT) at (1923,208);
\node[gene] (rnaIII) at (1947,329) {RNAIII};
\node[txt, below=-1pt of rnaIII] (srrna) {(srRNA)};
\node[gene] (rot) at (2036,329) {Rot};
\node[lt, align=left, font=\tfont] (exop) at (2079,296) {Exoproteases\\Lipase\\Urease\\Enterotoxin\\Leukocidins\\α-Toxin\\Methicillin resistance (mecA)};
\node[lt, align=left, font=\tfont] (prA) at (2081,358) {Protein A\\Oligopeptide permease};
\node[lt, align=left, font=\tfont] (carb2) at (1922,395) {Carbohydrate metabolism\\Amino acid metabolism\\Staphyloxanthin biosynthesis};
\draw[dsh] (agrD) -- (aip1);
\draw[arr] (aip1) -- (agrC);
\draw[arr] (agrC) -- (agrA);
\draw[arr] (agrA) -- node[ev, pos=.48]{e} (agrT);
\draw[arr, lw] (agrA.south east) -- node[ev]{e} (rnaIII.west);
\draw[inh, dl, lw] (agrA.south east) -- (carb2.west);
\draw[dsh, lw] (rnaIII.east) -- (exop.west);
\draw[inh, dl, lw] (rnaIII.east) -- (prA.west);
\node[font=\pvfont\fontsize{24}{26}\selectfont] (lgA) at (1917,201) {-1};
\node[font=\pvfont\fontsize{24}{26}\selectfont] (lgB) at (2066,201) {0};
\node[font=\pvfont\fontsize{24}{26}\selectfont] (lgC) at (2206,201) {1};

\node[lt] (spCd) at (1203,436) {Clostridium difficile};
\node[gene] (agrD1) at (1298,463) {AgrD1};
\node[gene, fill=cT] (agrB1) at (1459,480) {AgrB1};
\node[sig] (aip2) at (1520,463) {};
\node[txt, below=-1pt of aip2] (aip2L) {AIP};
\node[gene] (agrC2) at (1656,463) {AgrC2};
\node[gene] (agrA2) at (1783,463) {AgrA2};
\node[pl] (pp11) at (1743,454) {+p};
\node[gene] (tTcd) at (1947,463) {TcdA/B};
\node[lt] (toxab) at (1976,463) {Toxin A/B};
\draw[dsh] (agrD1) -- (aip2);
\draw[arr] (aip2) -- (agrC2);
\draw[arr] (agrC2) -- (agrA2);
\draw[dsh] (agrA2) -- (tTcd);

\node[lt] (spCp) at (1203,539) {Clostridium perfringens};
\node[gene] (agrD2) at (1298,566) {AgrD};
\node[gene, fill=cT] (agrB2) at (1459,583) {AgrB};
\node[sig] (aip3) at (1520,566) {};
\node[txt, below=-1pt of aip3] (aip3L) {AIP};
\node[gene] (qm1) at (1656,566) {?};
\node[gene] (qm2) at (1783,566) {?};
\node[gene] (tCpa) at (1947,547) {Cpa};
\node[lt] (atox) at (1976,547) {α-Toxin};
\node[gene] (tCpb) at (1947,566) {Cpb};
\node[lt] (btox) at (1976,566) {β-Toxin};
\node[gene, fill=cU] (tPfoA) at (1947,586) {PfoA};
\node[lt] (pfo) at (1976,586) {Perfringolysin O};
\draw[dsh] (agrD2) -- (aip3);
\draw[arr] (aip3) -- (qm1);
\draw[arr] (qm1) -- (qm2);
\draw[dsh] (qm2) -- (tCpb);

\node[lt] (spSt) at (1203,648) {Streptococcus};
\node[sig] (o2) at (1520,664) {};
\node[txt, below=-1pt of o2] (o2L) {O\textsubscript{2}};
\node[gene, fill=cO] (ciaH) at (1656,664) {CiaH};
\node[gene, fill=cO] (ciaR) at (1783,664) {CiaR};
\node[pl] (pp12) at (1743,655) {+p};
\node[gene] (comC) at (1298,701) {ComC};
\node[gene, fill=cO] (comA) at (1362,701) {ComA};
\node[gene] (comB) at (1362,720) {ComB};
\node[sig] (csp) at (1520,701) {};
\node[txt, below=-1pt of csp] (cspL) {CSP};
\node[gene] (comD) at (1656,701) {ComD};
\node[gene] (comE) at (1783,701) {ComE};
\node[pl] (pp13) at (1743,692) {+p};
\foreach \g [count=\i from 0] in {ComC,ComD,ComE} \node[gene] (b\g) at ({1947+48*\i},697) {\g};
\node[gene] (bNlmA) at (1947,722) {NlmA};
\node[gene] (bNlmB) at (1995,722) {NlmB};
\node[gene] (bNlmC) at (1947,741) {NlmC};
\node[gene] (bNlmD) at (1995,741) {NlmD};
\node[gene] (bCipI) at (1947,760) {CipI};
\draw[lw, rounded corners=7pt] (2020,709) -| (2028,738) |- (2020,768);
\node[lt] (bacimm) at (2032,740) {Bacteriocins and immunity proteins};
\node[gene] (comS) at (1298,796) {ComS};
\node[dotc] (xip) at (1520,796) {};
\node[txt, below=-1pt of xip] (xipL) {XIP};
\node[gene, fill=cO] (oppAmi1) at (1656,796) {Opp/Ami};
\node[gene] (comR) at (1783,796) {ComR};
\node[gene] (bComS) at (1947,796) {ComS};
\node[gene] (bComX) at (1947,842) {ComX};
\node[lt] (lcg) at (2053,842) {Late competence genes};
\draw[arr] (o2) -- (ciaH);
\draw[arr] (ciaH) -- (ciaR);
\draw[inh, lw] (ciaR.east) -- node[ev]{e} ([yshift=5pt]bComC.west);
\draw[lw] (comC) -- (comA);
\draw[dsh] (comA) -- (csp);
\draw[arr] (csp) -- (comD);
\draw[arr] (comD) -- (comE);
\draw[arr] (comE.east) -- node[ev]{e} (bComC.west |- comE);
\draw[arr, lw] (comE.east) -- node[ev]{e} (bNlmC.west);
\draw[dsh, lw] (comE.east) -- (bComX.north west);
\draw[dsh] (comS) -- (xip);
\draw[lw] (xip) -- (oppAmi1);
\draw[arr] (oppAmi1) -- (comR);
\draw[arr] (comR) -- node[ev]{e} (bComS);
\draw[arr, lw] (comR.east) -- node[ev]{e} (bComX.west);
\draw[arr] (bComX) -- node[ev]{e} (lcg);

\node[gene] (blpC) at (1298,928) {BlpC};
\node[gene, fill=cT] (blpA) at (1362,928) {BlpA};
\node[gene] (blpB) at (1362,947) {BlpB};
\node[sig] (blp) at (1520,928) {};
\node[txt, below=-1pt of blp] (blpL) {Blp};
\node[gene] (blpH) at (1656,928) {BlpH};
\node[gene, fill=cO] (blpR) at (1783,928) {BlpR};
\node[pl] (pp14) at (1743,919) {+p};
\foreach \g/\c [count=\i from 0] in {BlpA/cT,BlpB/white,BlpC/white,BlpH/white,BlpR/cO} \node[gene, fill=\c] (b\g) at ({1947+48*\i},928) {\g};
\node[txt] (bacimm2) at (2036,911) {Bacteriocins and immunity proteins};
\draw[lw] (blpC) -- (blpA);
\draw[dsh] (blpA) -- (blp);
\draw[arr] (blp) -- (blpH);
\draw[arr] (blpH) -- (blpR);
\draw[arr] (blpR) -- node[ev]{e} (bBlpA);

\node[gene] (shp2) at (1298,1018) {Shp2};
\node[sig] (shp2c) at (1520,1018) {};
\node[txt, above=-1pt of shp2c] (shp2cL) {SHP2C8};
\node[gene, fill=cO] (oppAmi2) at (1656,1018) {Opp/Ami};
\node[gene, fill=cO] (rgg2) at (1783,1018) {Rgg2};
\node[gene] (shp3) at (1298,1047) {Shp3};
\node[sig] (shp3c) at (1520,1047) {};
\node[txt, below=-1pt of shp3c] (shp3cL) {SHP3C8};
\node[gene, fill=cO] (oppAmi3) at (1656,1047) {Opp/Ami};
\node[gene] (rgg3) at (1783,1047) {Rgg3};
\node[gene] (tShp2) at (1947,1028) {Shp2};
\node[gene] (tShp3) at (1947,1048) {Shp3};
\draw[dsh] (shp2) -- (shp2c);
\draw[lw] (shp2c) -- (oppAmi2);
\draw[arr] (oppAmi2) -- (rgg2);
\draw[dsh] (shp3) -- (shp3c);
\draw[lw] (shp3c) -- (oppAmi3);
\draw[arr] (oppAmi3) -- (rgg3);
\draw[arr, lw] (rgg2.east) -- node[ev]{e} (tShp2.west);
\draw[inh, lw] (rgg3.east) -- node[ev]{e} ([yshift=4pt]tShp3.west);
\node[gene, fill=cO] (oppX) at (1656,1089) {Opp};
\node[gene, fill=cA] (dppX) at (1656,1108) {Dpp};
\node[dotc] (qcirc) at (1520,1098) {};
\node[txt, left=2pt of qcirc] (qmark) {?};
\node[gene] (ropB) at (1783,1098) {RopB};
\node[gene, fill=cB] (tSpeB) at (1947,1098) {SpeB};
\node[lt] (cysp) at (1976,1098) {Cysteine protease};
\node[lt] (vir1) at (2125,1098) {Virulence};
\node[txt] (pegp) at (1629,1149) {Post-exponential growth phase modulation};
\node[gene, fill=cT] (lacD) at (1726,1169) {LacD.1};
\node[lt] (bff4) at (1928,1151) {Biofilm formation};
\coordinate (bffC) at (1823,1151);
\draw[arr] (qcirc) -- (ropB);
\draw[arr] (ropB) -- node[ev]{e} (tSpeB);
\draw[dsh] (cysp) -- (vir1);
\draw[inh, lw] (lacD.north west) -- (ropB.south);
\draw[dsh, lw, rounded corners=6pt] (rgg2.south east) -| (bffC) -- (bff4.west);
\draw[dl, lw, rounded corners=4pt] (rgg3.south east) -| (bffC);
\draw[dl, lw, rounded corners=4pt] (ropB.south east) -| (bffC);

\node[lt] (spEf) at (1203,1213) {Enterococcus faecalis};
\node[lt] (pcf) at (1232,1248) {pCF10 (Donor cell)};
\node[gene] (prgQ) at (1298,1267) {PrgQ};
\node[sig] (icf) at (1520,1267) {};
\node[txt, above=-1pt of icf] (icfL) {iCF10};
\node[gene, fill=cO, sq] (prgZ1) at (1656,1267) {PrgZ/Opp};
\node[gene, fill=cG] (ccfA) at (1298,1296) {CcfA};
\node[sig] (ccf) at (1520,1296) {};
\node[txt, below=-1pt of ccf] (ccfL) {cCF10};
\node[gene, fill=cO, sq] (prgZ2) at (1656,1296) {PrgZ/Opp};
\node[lt] (chr3) at (1232,1316) {Chromosome (Recipient cell)};
\node[gene] (prgX) at (1783,1283) {PrgX};
\node[gene] (tPrgQ) at (1947,1283) {PrgQ};
\node[lt] (conj1) at (1928,1333) {Conjugation machinery};
\coordinate (cj1) at (1823,1333);
\draw[dsh] (prgQ) -- (icf);
\draw[lw] (icf) -- (prgZ1);
\draw[arr, lw] (prgZ1.east) -- ([yshift=4pt]prgX.west);
\draw[dsh] (ccfA) -- (ccf);
\draw[lw] (ccf) -- (prgZ2);
\draw[inh, lw] (prgZ2.east) -- ([yshift=-4pt]prgX.west);
\draw[inh] (prgX) -- node[ev]{e} (tPrgQ);
\draw[dsh, lw, rounded corners=6pt] (prgX.south east) -| (cj1) -- (conj1.west);

\node[lt] (pad) at (1232,1371) {pAD1 (Donor cell)};
\node[gene] (iAD) at (1298,1392) {iAD};
\node[sig] (iad1) at (1520,1392) {};
\node[txt, above=-1pt of iad1] (iad1L) {iAD1};
\node[gene, fill=cO, sq] (traC1) at (1656,1392) {TraC/Opp};
\node[gene] (cAD1) at (1298,1420) {cAD1};
\node[sig] (cad1) at (1520,1420) {};
\node[txt, below=-1pt of cad1] (cad1L) {cAD1};
\node[gene, fill=cO, sq] (traC2) at (1656,1420) {TraC/Opp};
\node[lt] (chr4) at (1232,1440) {Chromosome (Recipient cell)};
\node[gene] (traA) at (1783,1408) {TraA};
\node[gene] (tiAD) at (1947,1399) {iAD};
\node[gene] (tTraE1) at (1947,1418) {TraE1};
\node[gene, fill=cA] (asa1) at (2056,1418) {Asa1};
\node[lt] (aggr) at (2084,1418) {Aggregation};
\node[lt] (conj2) at (1928,1450) {Conjugation machinery};
\coordinate (traAT) at (1921,1408);
\coordinate (cj2) at (1823,1450);
\draw[dsh] (iAD) -- (iad1);
\draw[lw] (iad1) -- (traC1);
\draw[arr, lw] (traC1.east) -- ([yshift=4pt]traA.west);
\draw[dsh] (cAD1) -- (cad1);
\draw[lw] (cad1) -- (traC2);
\draw[inh, lw] (traC2.east) -- ([yshift=-4pt]traA.west);
\draw[inh] (traA) -- node[ev]{e} (traAT);
\draw[arr] (tTraE1) -- (asa1);
\draw[dsh, lw, rounded corners=6pt] (traA.south east) -| (cj2) -- (conj2.west);

\node[gene, fill=cT] (fsrD) at (1298,1509) {FsrD};
\node[gene, fill=cT] (fsrB) at (1459,1520) {FsrB};
\node[sig] (gbap) at (1520,1509) {};
\node[txt, below=-1pt of gbap] (gbapL) {GBAP};
\node[gene] (fsrC) at (1656,1509) {FsrC};
\node[gene, fill=cO] (fsrA) at (1783,1509) {FsrA};
\node[pl] (pp15) at (1743,1500) {+p};
\node[gene, fill=cT] (tFsrBD) at (1947,1490) {FsrB/D};
\node[gene] (tFsrC) at (1995,1490) {FsrC};
\node[gene] (tGelE) at (1947,1509) {GelE};
\node[lt] (gel) at (1976,1509) {Gelatinase};
\node[gene, fill=cA] (tSprE) at (1947,1528) {SprE};
\node[lt] (serp) at (1976,1528) {Serine protease};
\node[lt] (bff5) at (2105,1519) {Biofilm formation};
\coordinate (fsrE) at (2076,1519);
\draw[dsh] (fsrD) -- (gbap);
\draw[arr] (gbap) -- (fsrC);
\draw[arr] (fsrC) -- (fsrA);
\draw[arr] (fsrA) -- node[ev]{e} (tGelE);
\draw[dsh] (fsrE) -- (bff5);

\node[gene] (cylLL) at (1261,1587) {CylL\textsubscript{L}};
\node[gene] (cylLS) at (1261,1606) {CylL\textsubscript{S}};
\node[gene] (cylM) at (1312,1607) {CylM};
\node[gene] (cylB) at (1362,1597) {CylB};
\node[gene, fill=cB] (cylA) at (1459,1607) {CylA};
\node[txt] (ptc) at (1485,1562) {In the presence of target cells};
\node[lt] (tcl) at (1606,1564) {Target cell lysis};
\node[dotc] (cLL) at (1520,1589) {};
\node[txt, above=-1pt of cLL] (cLLL) {CylL\textsubscript{L}''};
\node[dotc] (cLS) at (1520,1605) {};
\node[txt, below=-1pt of cLS] (cLSL) {CylL\textsubscript{S}''};
\node[gene] (cylR1) at (1656,1605) {CylR1};
\node[gene] (cylR2) at (1783,1605) {CylR2};
\node[gene] (tCylLL) at (1947,1597) {CylL\textsubscript{L}};
\node[gene] (tCylLS) at (1995,1597) {CylL\textsubscript{S}};
\node[gene] (tCylM) at (1947,1616) {CylM};
\node[gene] (tCylB) at (1995,1616) {CylB};
\node[gene, fill=cC] (tCylA) at (2043,1616) {CylA};
\node[txt] (iatc) at (1472,1643) {In absence of target cells};
\node[dotc] (nLL) at (1520,1667) {};
\node[txt, above=-1pt of nLL] (nLLL) {CylL\textsubscript{L}''};
\node[dotc] (nLS) at (1520,1682) {};
\node[txt, below=-1pt of nLS] (nLSL) {CylL\textsubscript{S}''};
\node[lt] (nsi) at (1606,1674) {No signaling induction};
\coordinate (tclB) at (1553,1564);
\coordinate (cylT) at (1921,1606);
\coordinate (nMid) at (1520,1674.5);
\draw[dl] (cylLL.south east) -- (cylB.west);
\draw[dsh] (cylB) -- (cLL.south west);
\draw[dsh, lw, rounded corners=5pt] (cLL.east) -| (tclB) -- (tcl.west);
\draw[arr] (cLS) -- (cylR1);
\draw[inh, dl] (cylR1) -- (cylR2);
\draw[inh] (cylR2) -- node[ev]{e} (cylT);
\draw[lw] (nLL) -- (nLS);
\draw[dsh] (nMid) -- (nsi);

\node[lt] (spBa) at (1207,1723) {Bacillus};
\node[gene] (comX) at (1298,1745) {ComX};
\node[gene] (comQ) at (1459,1756) {ComQ};
\node[sig] (comXc) at (1520,1745) {};
\node[txt, below=-1pt of comXc] (comXcL) {ComX};
\node[gene, fill=cG] (comP) at (1656,1745) {ComP};
\node[gene] (comA2) at (1783,1745) {ComA};
\node[pl] (pp16) at (1743,1736) {+p};
\node[gene] (bComS2) at (1947,1727) {ComS};
\node[gene] (bComK) at (2054,1727) {ComK};
\node[lt] (cge) at (2090,1727) {Competence gene expression};
\node[gene, fill=cU] (bSfrAA) at (1947,1746) {SfrAA};
\node[gene, fill=cA] (bSfrAB) at (1995,1746) {SfrAB};
\node[lt] (surf) at (2022,1754) {Surfactin production};
\node[gene] (bSfrAC) at (1947,1765) {SfrAC};
\node[gene, fill=cG] (bSfrAD) at (1995,1765) {SfrAD};
\draw[dsh] (comX) -- (comXc);
\draw[arr] (comXc) -- (comP);
\draw[arr] (comP) -- (comA2);
\draw[arr] (comA2) -- node[ev]{e} (bSfrAA.west);
\draw[dsh] (bComS2) -- (bComK);

\foreach \g [count=\i from 0] in {C,F,K,G,H,A,E} \node[gene] (phr\g) at (1298,{1816+19*\i}) {Phr\g};
\node[gene, fill=cA] (sec1) at (1362,1873) {Sec};
\node[sig] (phrc) at (1520,1873) {};
\node[txt, below=-1pt of phrc] (phrcL) {Phr};
\node[gene, fill=cO] (opp1) at (1656,1873) {Opp};
\foreach \g [count=\i from 0] in {C,F,K,G,H,A,E,B} \node[gene] (rap\g) at (1783,{1816+19*\i}) {Rap\g};
\node[gene, fill=cA] (degU) at (1889,1873) {DegU};
\node[lt] (dege) at (1969,1873) {Degradative enzymes};
\node[gene, fill=cT] (spo0F) at (1889,1912) {Spo0F};
\node[gene] (spo0B) at (1889,1933) {Spo0B};
\node[gene, fill=cG] (spo0A) at (1977,1922) {Spo0A};
\node[lt] (spg) at (2058,1922) {Sporulation genes};
\node[pl] (mp1) at (1853,1899) {-p};
\node[pl] (pp17) at (1934,1932) {+p};
\coordinate (rapM) at (1818,1853);
\coordinate (rapU) at (1848,1787);
\draw[dl] (phrG) -- (sec1);
\draw[dsh] (sec1) -- (phrc);
\draw[lw] (phrc) -- (opp1);
\draw[inh] (opp1) -- (rapG);
\draw[lw, rounded corners=6pt] (1808,1808) -| (1816,1853) |- (1808,1900);
\draw[inh, lw, rounded corners=8pt] (rapM) -| (rapU) -| (comA2.south);
\draw[inh] (rapG) -- (degU);
\draw[inh, lw] (rapH.east) -- (degU.west);
\draw[inh, lw] (rapH.east) -- (spo0F.west);
\draw[inh, lw] (rapA.east) -- (spo0F.west);
\draw[inh, lw] (rapE.east) -- (spo0F.west);
\draw[inh, lw] (rapB.east) -- (spo0F.west);
\draw[arr] (spo0F.south east) -- (spo0A.west);
\draw[arr] (spo0A) -- node[ev]{e} (spg);
\draw[arr] (degU) -- node[ev]{e} (dege);

\node[lt] (spBt) at (1207,1995) {Bacillus thuringiensis};
\node[gene] (papR) at (1298,2042) {PapR};
\node[gene, fill=cA] (sec2) at (1362,2042) {Sec};
\node[gene] (nprB) at (1459,2052) {NprB};
\node[sig] (papc) at (1520,2042) {};
\node[txt, below=-1pt of papc] (papcL) {PapR};
\node[gene, fill=cO] (opp2) at (1656,2042) {Opp};
\node[gene] (plcR) at (1783,2042) {PlcR};
\node[gene] (tPlcR) at (1947,2013) {PlcR};
\node[gene] (tPapR) at (1995,2013) {PapR};
\node[gene, fill=cG] (tPlcA) at (1947,2033) {PlcA};
\node[lt] (phl) at (1976,2033) {Phospholipase};
\node[gene] (tHbl) at (1947,2052) {Hbl};
\node[gene] (tNhe) at (1995,2052) {Nhe};
\node[lt] (ent) at (2024,2052) {Enterotoxin};
\node[gene] (tNprB) at (1947,2071) {NprB};
\node[gene] (tNprR) at (1995,2071) {NprR};
\node[lt] (vir2) at (2148,2043) {Virulence};
\coordinate (btT) at (1921,2042);
\coordinate (btE) at (2092,2043);
\draw[dl] (papR) -- (sec2);
\draw[dsh] (sec2) -- (papc);
\draw[lw] (papc) -- (opp2);
\draw[arr] (opp2) -- (plcR);
\draw[arr] (plcR) -- node[ev]{e} (btT);
\draw[dsh] (btE) -- (vir2);

\node[gene] (nprX) at (1298,2142) {NprX};
\node[gene, fill=cA] (sec3) at (1362,2142) {Sec};
\node[sig] (nprc) at (1520,2142) {};
\node[txt, below=-1pt of nprc] (nprcL) {NprX};
\node[gene, fill=cO, sq] (trp3) at (1656,2142) {Transporter};
\node[gene] (nprR) at (1783,2142) {NprR};
\node[lt] (dege2) at (1928,2133) {Degradation enzyme};
\node[lt] (necro) at (2092,2133) {Necrotrophism};
\node[lt] (lipo) at (1928,2153) {Lipopeptide};
\node[lt] (bff6) at (2050,2153) {Biofilm formation};
\coordinate (nprT) at (1921,2142);
\draw[dl] (nprX) -- (sec3);
\draw[dsh] (sec3) -- (nprc);
\draw[lw] (nprc) -- (trp3);
\draw[arr] (trp3) -- (nprR);
\draw[arr] (nprR) -- node[ev]{e} (nprT);
\draw[dsh] (dege2) -- (necro);
\draw[dsh] (lipo) -- (bff6);

\node[lt] (spGp) at (1207,2207) {Gram-positive bacteria};
\node[gene] (nisA) at (1261,2275) {NisA};
\node[gene] (nisB) at (1312,2264) {NisB};
\node[gene] (nisC) at (1312,2285) {NisC};
\node[gene] (nisT) at (1362,2275) {NisT};
\node[gene] (nisP) at (1459,2286) {NisP};
\node[txt] (mapL) at (1520,2261) {Mature antimicrobial peptide};
\node[dotc] (nisc) at (1520,2275) {};
\node[gene] (nisK) at (1656,2275) {NisK};
\node[gene] (nisR) at (1783,2275) {NisR};
\node[pl] (pp18) at (1743,2266) {+p};
\node[gene] (tNisA) at (1947,2227) {NisA};
\node[lt] (amp) at (1976,2227) {Antimicrobial peptide precursor};
\node[gene] (tNisB) at (1947,2247) {NisB};
\node[gene] (tNisC) at (1995,2247) {NisC};
\node[lt] (modi) at (2022,2247) {Modification};
\node[gene] (tNisT) at (1947,2266) {NisT};
\node[lt] (trn) at (1976,2266) {Transport};
\node[gene] (tNisP) at (1947,2285) {NisP};
\node[lt] (proc) at (1976,2285) {Processing};
\node[gene] (tNisK) at (1947,2304) {NisK};
\node[gene] (tNisR) at (1995,2304) {NisR};
\node[lt] (sens) at (2024,2304) {Sensing system};
\foreach \g [count=\i from 0] in {NisI,NisF,NisE,NisG} \node[gene] (t\g) at ({1947+48*\i},2323) {\g};
\node[lt] (imm) at (2122,2323) {Immunity};
\coordinate (nisTg) at (1921,2275);
\draw[dl] (nisA) -- (nisT);
\draw[dsh] (nisT) -- (nisc);
\draw[arr] (nisc) -- (nisK);
\draw[arr] (nisK) -- (nisR);
\draw[arr] (nisR) -- node[ev]{e} (nisTg);
\end{tikzpicture}
\end{document}
